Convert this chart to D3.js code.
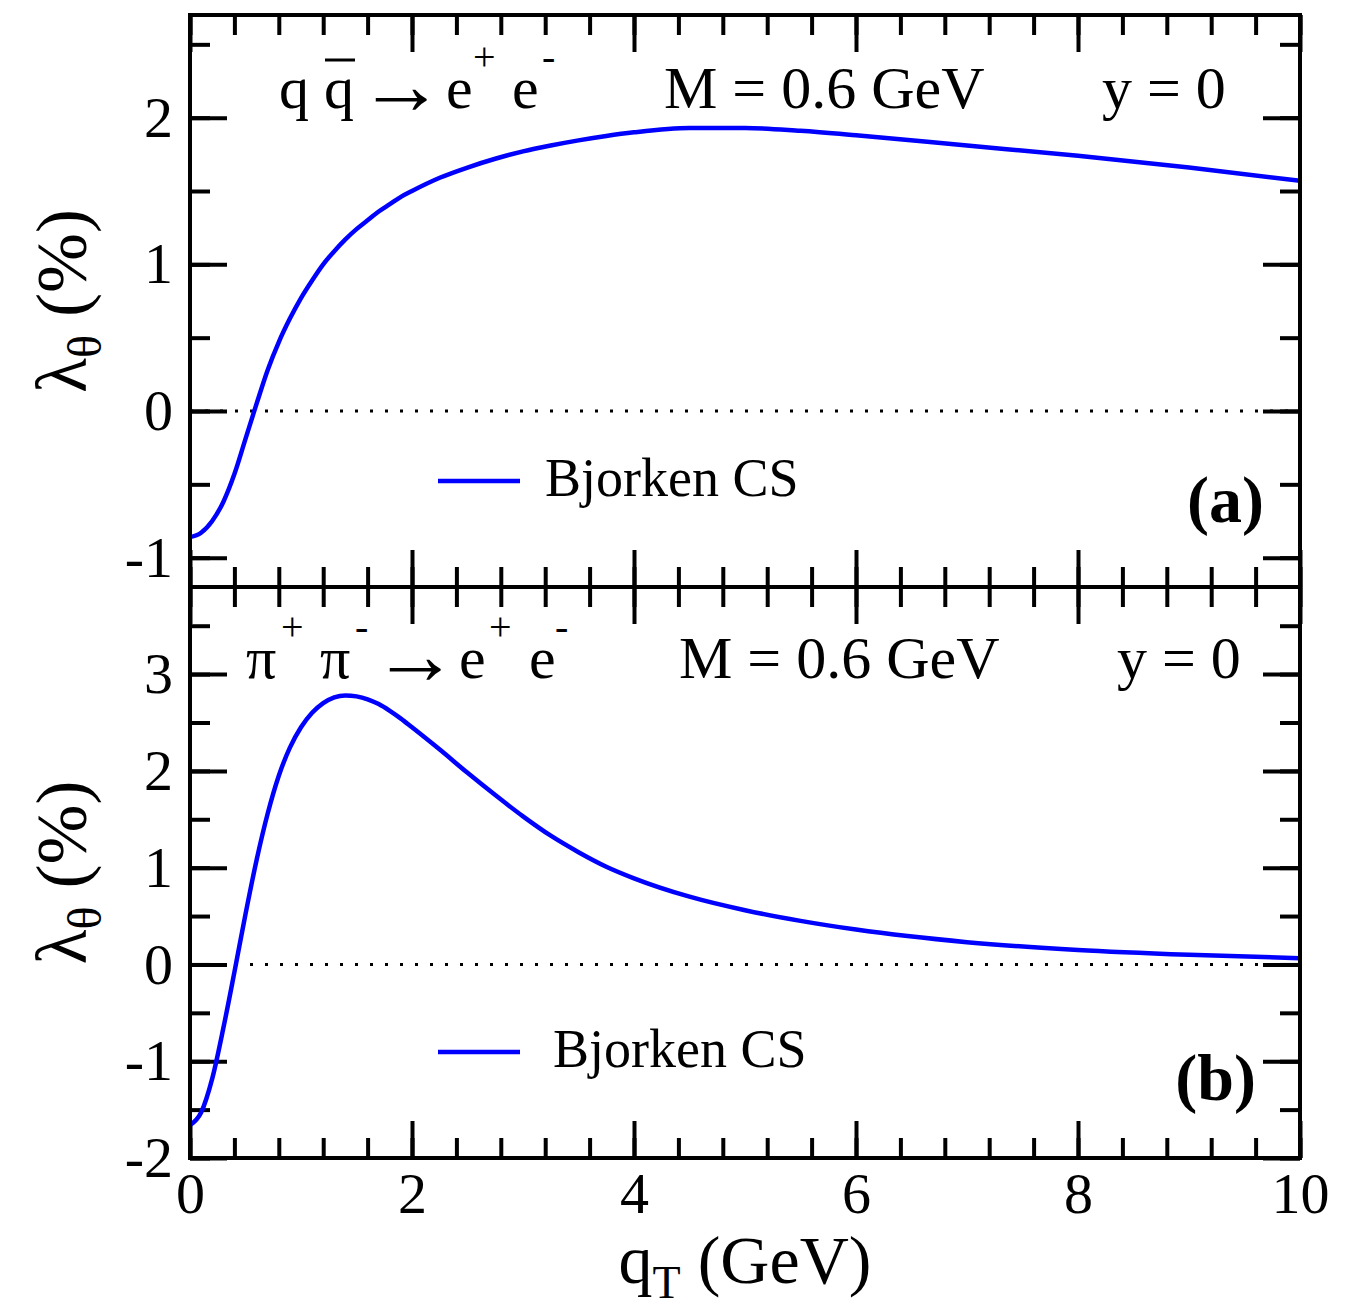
<!DOCTYPE html>
<html>
<head>
<meta charset="utf-8">
<script src="https://cdn.jsdelivr.net/npm/d3@7"></script>
<style>
body { margin: 0; background: #fff; }
text { font-family: "Liberation Serif", "Times New Roman", serif; fill: #000; }
</style>
</head>
<body>
<div id="chart"></div>
<script>
//---------------- data ----------------------
var qT = [0, 0.1, 0.2, 0.3, 0.4, 0.5, 0.6, 0.7, 0.8, 0.9, 1.0, 1.1, 1.2, 1.3, 1.4, 1.5, 1.6, 1.7, 1.8, 1.9, 2.0,
          2.25, 2.5, 2.75, 3.0, 3.25, 3.5, 3.75, 4.0, 4.5, 5.0, 5.5, 6, 7, 8, 9, 10];
// panel (a): q qbar -> e+ e-
var lambdaQQ = [-0.86, -0.83, -0.75, -0.62, -0.43, -0.19, 0.05, 0.28, 0.47, 0.63, 0.77, 0.89, 1.00, 1.09, 1.17,
                1.24, 1.30, 1.36, 1.41, 1.46, 1.50,
                1.59, 1.66, 1.72, 1.77, 1.81, 1.845, 1.875, 1.90, 1.93, 1.93, 1.91, 1.88, 1.81, 1.74, 1.66, 1.57];
// panel (b): pi+ pi- -> e+ e-
var lambdaPiPi = [-1.66, -1.53, -1.18, -0.66, -0.08, 0.52, 1.08, 1.56, 1.95, 2.24, 2.45, 2.60, 2.70, 2.76, 2.78,
                  2.77, 2.74, 2.69, 2.62, 2.54, 2.45,
                  2.22, 1.98, 1.75, 1.53, 1.33, 1.16, 1.01, 0.89, 0.70, 0.56, 0.45, 0.36, 0.23, 0.15, 0.10, 0.065];

var xMajorTicks = [0, 2, 4, 6, 8, 10];
var yTicksA = [-1, 0, 1, 2];
var yTicksB = [-2, -1, 0, 1, 2, 3];
var legendLabel = "Bjorken CS";
var panelLabels = ["(a)", "(b)"];
var massLabel = "M = 0.6 GeV";
var rapidityLabel = "y = 0";

//---------------- layout ----------------------
var w = 1345;
var h = 1307;
var left = 190, right = 1300;
var topA = 15, mid = 587, bottomB = 1158;
var majorLen = 37, minorLen = 20;

var svg = d3.select("#chart").append("svg").attr("width", w).attr("height", h);

var xScale = d3.scaleLinear().domain([0, 10]).range([left, right]);
var yScaleA = d3.scaleLinear().domain([-1.2, 2.7]).range([mid, topA]);
var yScaleB = d3.scaleLinear().domain([-2, 3.9]).range([bottomB, mid]);

var xMinor = d3.range(0, 10.001, 0.4);

//---------------- panel drawing ----------------------
var drawPanel = function(yScale, yMajor, values, yTop, yBottom, showXLabels) {
	var g = svg.append("g");
	var yMinor = d3.range(Math.ceil(yScale.domain()[0] * 2) / 2, yScale.domain()[1] + 0.001, 0.5);

	// bottom ticks
	g.append("g").attr("transform", "translate(0," + yBottom + ")")
		.call(d3.axisBottom(xScale).tickValues(xMinor).tickSize(-minorLen).tickFormat(""));
	g.append("g").attr("transform", "translate(0," + yBottom + ")")
		.call(d3.axisBottom(xScale).tickValues(xMajorTicks).tickSize(-majorLen).tickPadding(14)
			.tickFormat(showXLabels ? d3.format("d") : ""));
	// top ticks
	g.append("g").attr("transform", "translate(0," + yTop + ")")
		.call(d3.axisTop(xScale).tickValues(xMinor).tickSize(-minorLen).tickFormat(""));
	g.append("g").attr("transform", "translate(0," + yTop + ")")
		.call(d3.axisTop(xScale).tickValues(xMajorTicks).tickSize(-majorLen).tickFormat(""));
	// left ticks
	g.append("g").attr("transform", "translate(" + left + ",0)")
		.call(d3.axisLeft(yScale).tickValues(yMinor).tickSize(-minorLen).tickFormat(""));
	g.append("g").attr("transform", "translate(" + left + ",0)")
		.call(d3.axisLeft(yScale).tickValues(yMajor).tickSize(-majorLen).tickPadding(17)
			.tickFormat(function(d) { return d < 0 ? "-" + Math.abs(d) : d; }));
	// right ticks
	g.append("g").attr("transform", "translate(" + right + ",0)")
		.call(d3.axisRight(yScale).tickValues(yMinor).tickSize(-minorLen).tickFormat(""));
	g.append("g").attr("transform", "translate(" + right + ",0)")
		.call(d3.axisRight(yScale).tickValues(yMajor).tickSize(-majorLen).tickFormat(""));

	g.selectAll(".domain").remove();
	g.selectAll(".tick line").attr("stroke", "#000").attr("stroke-width", 4);
	g.selectAll(".tick text")
		.attr("font-family", "Liberation Serif")
		.attr("font-size", 58)
		.attr("fill", "#000");

	// zero line
	g.append("line")
		.attr("x1", xScale(0)).attr("x2", xScale(10))
		.attr("y1", yScale(0)).attr("y2", yScale(0))
		.attr("stroke", "#000")
		.attr("stroke-width", 3)
		.attr("stroke-dasharray", "3,12");

	// curve
	var line = d3.line()
		.x(function(d, i) { return xScale(qT[i]); })
		.y(function(d) { return yScale(d); })
		.curve(d3.curveMonotoneX);

	g.append("path")
		.datum(values)
		.attr("d", line)
		.attr("fill", "none")
		.attr("stroke", "#0000ff")
		.attr("stroke-width", 4.5);

	// frame
	g.append("rect")
		.attr("x", left).attr("y", yTop)
		.attr("width", right - left).attr("height", yBottom - yTop)
		.attr("fill", "none")
		.attr("stroke", "#000")
		.attr("stroke-width", 4);

	// y axis title
	var yt = g.append("text")
		.attr("transform", "translate(86," + ((yTop + yBottom) / 2) + ") rotate(-90)")
		.attr("text-anchor", "middle")
		.attr("font-size", 72);
	yt.append("tspan").text("\u03bb");
	yt.append("tspan").attr("font-size", 48).attr("dy", 15).text("\u03b8");
	yt.append("tspan").attr("dy", -15).text(" (%)");

	return g;
};

var gA = drawPanel(yScaleA, yTicksA, lambdaQQ, topA, mid, false);
var gB = drawPanel(yScaleB, yTicksB, lambdaPiPi, mid, bottomB, true);

//---------------- annotations ----------------------
// piece kinds: "n" normal, "s" superscript, "a" arrow
var addPieces = function(g, pieces, baseline) {
	pieces.forEach(function(p) {
		var size = 60, y = baseline;
		if (p[2] === "s") { size = 40; y = baseline - 38; }
		if (p[2] === "a") { size = 86; y = baseline + 6; }
		g.append("text")
			.attr("x", p[1])
			.attr("y", y)
			.attr("font-size", size)
			.text(p[0]);
	});
};

// panel (a) process
addPieces(gA, [["q", 279, "n"], ["q", 324, "n"], ["\u2192", 358, "a"], ["e", 446, "n"],
               ["+", 473, "s"], ["e", 512, "n"], ["-", 542, "s"]], 108);
gA.append("line").attr("x1", 325).attr("x2", 355).attr("y1", 60).attr("y2", 60)
	.attr("stroke", "#000").attr("stroke-width", 3);
gA.append("text").attr("x", 664).attr("y", 108).attr("font-size", 60).text(massLabel);
gA.append("text").attr("x", 1102).attr("y", 108).attr("font-size", 60).text(rapidityLabel);

// panel (b) process
addPieces(gB, [["\u03c0", 246, "n"], ["+", 281, "s"], ["\u03c0", 320, "n"], ["-", 355, "s"],
               ["\u2192", 372, "a"], ["e", 459, "n"], ["+", 489, "s"], ["e", 529, "n"],
               ["-", 555, "s"]], 678);
gB.append("text").attr("x", 679).attr("y", 678).attr("font-size", 60).text(massLabel);
gB.append("text").attr("x", 1117).attr("y", 678).attr("font-size", 60).text(rapidityLabel);

// legends
var legend = function(g, y, textX) {
	g.append("line")
		.attr("x1", 438).attr("x2", 520).attr("y1", y).attr("y2", y)
		.attr("stroke", "#0000ff").attr("stroke-width", 4.5);
	g.append("text").attr("x", textX).attr("y", y + 15).attr("font-size", 54).text(legendLabel);
};
legend(gA, 481, 545);
legend(gB, 1052, 553);

// panel labels
gA.append("text").attr("x", 1264).attr("y", 522).attr("text-anchor", "end")
	.attr("font-size", 66).attr("font-weight", "bold").text(panelLabels[0]);
gB.append("text").attr("x", 1256).attr("y", 1100).attr("text-anchor", "end")
	.attr("font-size", 66).attr("font-weight", "bold").text(panelLabels[1]);

// x axis title
var xt = svg.append("text")
	.attr("x", (left + right) / 2)
	.attr("y", 1283)
	.attr("text-anchor", "middle")
	.attr("font-size", 68);
xt.append("tspan").text("q");
xt.append("tspan").attr("font-size", 46).attr("dy", 15).text("T");
xt.append("tspan").attr("dy", -15).text(" (GeV)");
</script>
</body>
</html>
